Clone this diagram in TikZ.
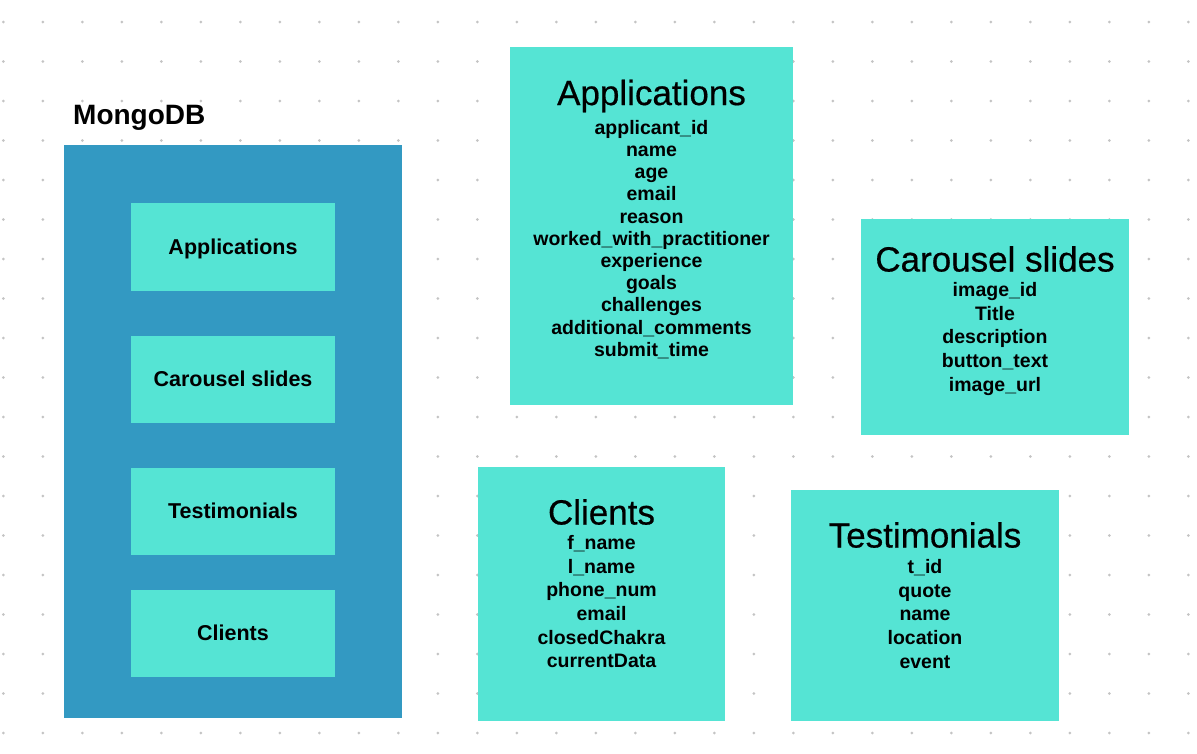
\documentclass[tikz,border=0pt]{standalone}
\usepackage{fontspec}
\setmainfont{Liberation Sans}
\newfontfamily\titlefont[FakeBold=0.5]{Liberation Sans}
\usetikzlibrary{positioning}

\definecolor{dbblue}{HTML}{3399C2}
\definecolor{colgreen}{HTML}{55E4D4}
\definecolor{dotgray}{HTML}{C4C4C4}

\begin{document}
\begin{tikzpicture}[
    x=1pt, y=-1pt,
    every node/.style={align=center, inner sep=0pt},
    dbbox/.style={fill=dbblue, minimum width=338pt, minimum height=573pt},
    slot/.style={fill=colgreen, minimum width=204pt, minimum height=87pt,
        font=\fontsize{21.5}{24}\selectfont\bfseries},
    coll/.style={fill=colgreen},
    colltitle/.style={font=\titlefont\fontsize{35}{38}\selectfont},
    fields/.style={font=\fontsize{19.5}{#1}\selectfont\bfseries},
    fields/.default=23.7
]

    \useasboundingbox (0,0) rectangle (1197,753);

    % dot grid
    \foreach \i in {0,...,30}
        \foreach \j in {0,...,18}
            \fill[dotgray] (3.3+39.5*\i, 22+39.5*\j) circle (1.5pt);

    % database
    \node (dblabel) [anchor=west, font=\fontsize{28}{30}\selectfont\bfseries] at (73,118) {MongoDB};
    \node (db) [dbbox, anchor=north west] at (64,145) {};
    \node (sapp) [slot, minimum height=88pt, text depth=0pt] at (233,246.5) {Applications};
    \node (scar) [slot] at (233,379) {Carousel slides};
    \node (stes) [slot] at (233,511) {Testimonials};
    \node (scli) [slot] at (233,633) {Clients};

    % collections
    \node (app) [coll, minimum width=283pt, minimum height=358pt] at (651.5,226) {};
    \node (apptitle) [colltitle] at (651.5,96) {Applications};
    \node (appfields) [fields=22.2, anchor=north] at (651.5,120) {applicant\_id\\name\\age\\email\\reason\\worked\_with\_practitioner\\experience\\goals\\challenges\\additional\_comments\\submit\_time};

    \node (car) [coll, minimum width=268pt, minimum height=216pt] at (995,327) {};
    \node (cartitle) [colltitle] at (995,259) {Carousel slides};
    \node (carfields) [fields, anchor=north] at (995,282) {image\_id\\Title\\description\\button\_text\\image\_url};

    \node (cli) [coll, minimum width=247pt, minimum height=254pt] at (601.5,594) {};
    \node (clititle) [colltitle] at (601.5,512) {Clients};
    \node (clifields) [fields, anchor=north] at (601.5,535) {f\_name\\l\_name\\phone\_num\\email\\closedChakra\\currentData};

    \node (tes) [coll, minimum width=268pt, minimum height=231pt] at (925,605.5) {};
    \node (testitle) [colltitle] at (925,535) {Testimonials};
    \node (tesfields) [fields, anchor=north] at (925,559) {t\_id\\quote\\name\\location\\event};

\end{tikzpicture}
\end{document}
